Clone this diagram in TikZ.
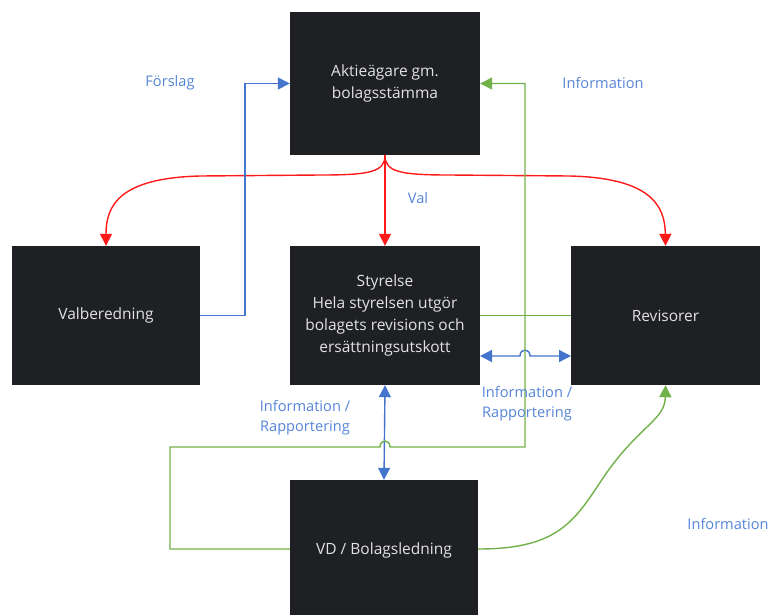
\documentclass[tikz,border=0pt]{standalone}
\usepackage{fontspec}
\setmainfont{Open Sans}
\usetikzlibrary{arrows.meta}
\definecolor{boxfill}{HTML}{1E2023}
\definecolor{boxtext}{HTML}{E2E2E2}
\definecolor{linkred}{HTML}{FF1A1A}
\definecolor{linkblue}{HTML}{4474CC}
\definecolor{linkgreen}{HTML}{72B04A}
\definecolor{labelblue}{HTML}{5584D6}
\begin{document}
\begin{tikzpicture}[x=1pt,y=-1pt,
  darkbox/.style={draw=none,fill=boxfill,text=boxtext,align=center,
    font=\fontsize{15.5}{21.8}\selectfont,inner sep=0pt},
  lbl/.style={text=labelblue,align=center,font=\fontsize{14.6}{20}\selectfont},
  tip/.style={-{Triangle[length=12pt,width=12pt]}},
  dtip/.style={{Triangle[length=12pt,width=12pt]}-{Triangle[length=12pt,width=12pt]}},
  redline/.style={draw=linkred,line width=1.4pt},
  blueline/.style={draw=linkblue,line width=1.4pt},
  greenline/.style={draw=linkgreen,line width=1.4pt}]
\useasboundingbox (0,0) rectangle (773,614);
\begin{scope}
\clip (0,0) rectangle (773,614);
\node[darkbox,minimum width=190pt,minimum height=143pt] (top) at (385,83.5) {Aktieägare gm.\\bolagsstämma};
\node[darkbox,minimum width=188pt,minimum height=139pt] (val) at (106,315.5) {Valberedning};
\node[darkbox,minimum width=190pt,minimum height=139pt] (sty) at (385,315.5) {Styrelse\\Hela styrelsen utgör\\bolagets revisions och\\ersättningsutskott};
\node[darkbox,minimum width=189pt,minimum height=139pt] (rev) at (665.5,315.5) {Revisorer};
\node[darkbox,minimum width=188pt,minimum height=140pt] (vd) at (384,550) {VD / Bolagsledning};
\end{scope}
\coordinate (fa) at (245,315.5);
\coordinate (fb) at (245,83.5);
\coordinate (ga) at (170,549);
\coordinate (gb) at (170,447);
\coordinate (gc) at (380,447);
\coordinate (gd) at (390,447);
\coordinate (ge) at (525,447);
\coordinate (gf) at (525,83.5);
\coordinate (ba) at (480,356);
\coordinate (bb) at (520,356);
\coordinate (bc) at (530,356);
\coordinate (bd) at (571,356);
% red
\draw[redline,tip] (top.south) -- (sty.north);
\draw[redline,tip] (top.south) .. controls (385,172) and (370,175) .. (320,175) -- (200,176) .. controls (120,178) and (106,205) .. (val.north);
\draw[redline,tip] (top.south) .. controls (385,172) and (400,175) .. (450,175) -- (570,176) .. controls (650,178) and (665,205) .. (rev.north);
% blue
\draw[blueline,tip] (val.east) -- (fa) -- (fb) -- (top.west);
\draw[blueline,dtip] (sty.south) -- (vd.north);
\draw[blueline,dtip] (ba) -- (bb) .. controls (520,348) and (530,348) .. (bc) -- (bd);
% green
\draw[greenline] (sty.east) -- (rev.west);
\draw[greenline,tip] (vd.west |- ga) -- (ga) -- (gb) -- (gc) .. controls (380,439) and (390,439) .. (gd) -- (ge) -- (gf) -- (top.east);
\draw[greenline,tip] (vd.east |- ga) .. controls (560,549) and (575,520) .. (605,475) .. controls (640,425) and (665,420) .. (rev.south);
% labels
\node[lbl] (l1) at (170,83) {Förslag};
\node[lbl] (l2) at (418,198) {Val};
\node[lbl] (l3) at (603,83) {Information};
\node[lbl] (l4) at (305,418) {Information /\\Rapportering};
\node[lbl] (l5) at (527,404) {Information /\\Rapportering};
\node[lbl] (l6) at (728,524) {Information};
\end{tikzpicture}
\end{document}
